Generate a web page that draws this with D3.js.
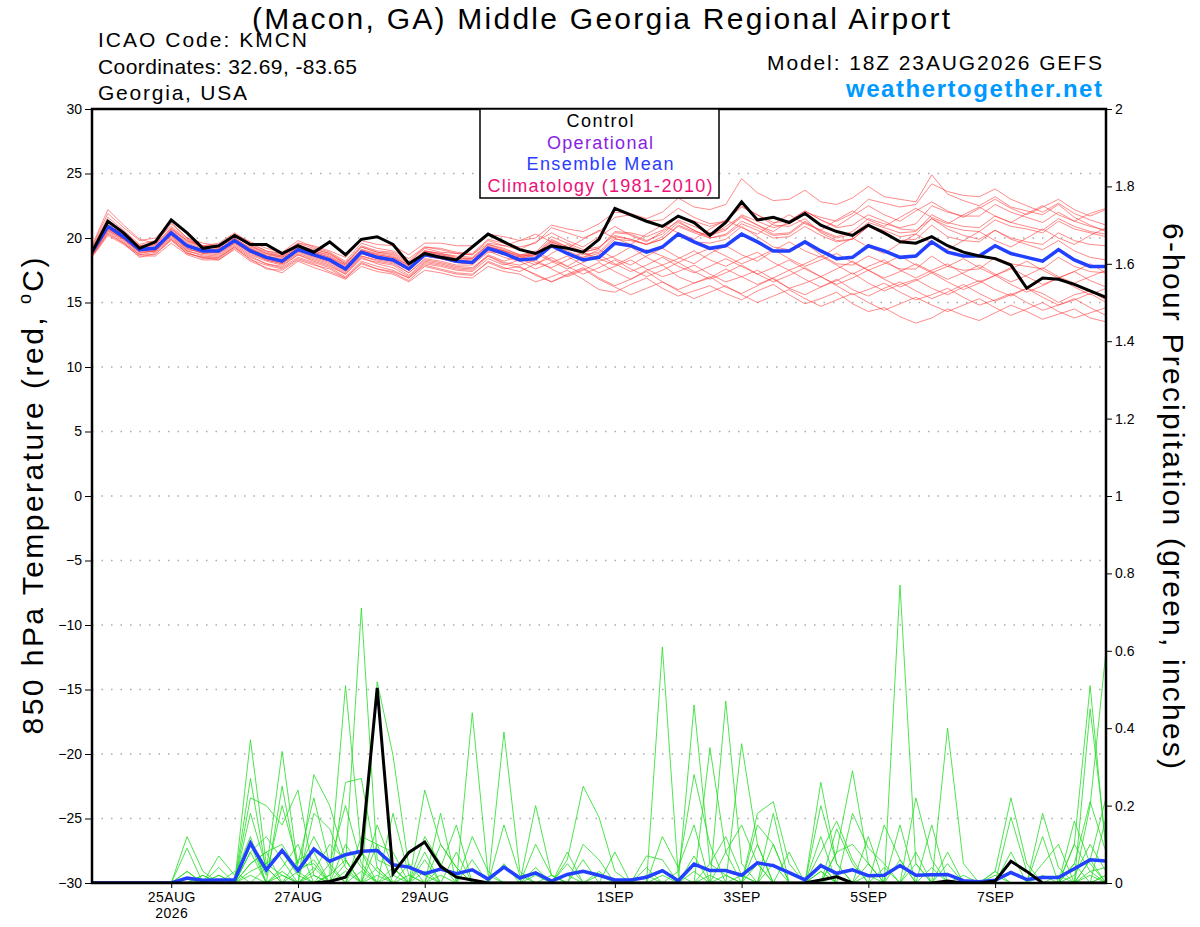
<!DOCTYPE html>
<html>
<head>
<meta charset="utf-8">
<script src="https://cdn.jsdelivr.net/npm/d3@7"></script>
<style>
body { margin: 0; background: #fff; }
text { font-family: "Liberation Sans", Arial, Helvetica, sans-serif; }
</style>
</head>
<body>
<svg id="chart" width="1200" height="927"></svg>
<script>
// run info
const runStart = Date.UTC(2026, 7, 23, 18)
const nSteps = 65

const tickDates = ['2026-08-25', '2026-08-27', '2026-08-29', '2026-09-01', '2026-09-03', '2026-09-05', '2026-09-07']
const tickLabels = ['25AUG', '27AUG', '29AUG', '1SEP', '3SEP', '5SEP', '7SEP']
const tempTicks = [-30, -25, -20, -15, -10, -5, 0, 5, 10, 15, 20, 25, 30]
const precipTicks = [0, 0.2, 0.4, 0.6, 0.8, 1, 1.2, 1.4, 1.6, 1.8, 2]

// 850 hPa temperature (C)
const tempControl = [18.9,21.3,20.4,19.2,19.7,21.4,20.4,19.2,19.4,20.2,19.5,19.5,18.8,
    19.4,18.9,19.7,18.7,19.9,20.1,19.5,18.0,18.8,18.5,18.3,19.3,20.3,
    19.7,19.1,18.8,19.4,19.2,18.9,19.9,22.3,21.8,21.3,20.9,21.7,21.2,
    20.2,21.2,22.8,21.4,21.6,21.2,21.9,21.0,20.5,20.2,21.0,20.4,19.7,
    19.6,20.1,19.4,18.9,18.6,18.4,17.9,16.1,16.9,16.8,16.4,15.9,15.4]
const tempMean = [18.9,20.9,20.1,19.1,19.2,20.4,19.4,19.0,19.0,19.8,19.0,18.5,18.2,
    19.1,18.7,18.3,17.6,18.9,18.5,18.3,17.6,18.7,18.5,18.2,18.1,19.2,
    18.8,18.3,18.4,19.4,18.8,18.3,18.5,19.6,19.4,18.9,19.3,20.3,19.7,
    19.2,19.4,20.3,19.7,19.0,19.0,19.7,19.0,18.4,18.5,19.4,19.0,18.5,
    18.6,19.7,18.9,18.6,18.6,19.4,18.8,18.5,18.2,19.1,18.3,17.8,17.8]
const tempMembers = [
    [19.2,21.6,20.6,19.5,19.8,20.9,19.9,19.4,19.6,20.4,19.6,19.0,18.8, 19.6,19.4,19.0,18.5,19.8,19.5,19.4,18.7,19.6,19.6,19.4,19.4,20.3,
     20.1,19.8,20.0,21.0,20.7,20.5,21.1,22.0,21.9,21.5,22.0,23.1,22.4, 22.2,22.6,24.6,23.5,22.9,23.0,23.7,22.8,22.6,23.1,24.0,23.2,23.0,
     22.8,24.9,23.4,22.9,22.5,23.2,22.4,22.1,21.8,22.6,21.6,21.0,20.5],
    [18.5,20.2,19.5,18.6,18.6,19.6,18.7,18.3,18.3,19.1,18.2,17.7,17.3, 18.2,17.7,17.3,16.8,17.8,17.4,17.2,16.6,17.5,17.3,17.0,16.9,17.8,
     17.4,17.2,16.6,17.0,17.5,16.8,16.0,15.8,16.4,16.9,16.1,15.5,15.9, 16.3,15.7,15.2,15.9,16.4,15.6,14.9,15.3,15.8,14.9,14.3,14.6,13.9,
     13.4,13.8,14.5,14.0,13.6,14.2,14.8,14.3,13.7,14.1,14.5,13.8,13.5],
    [19.0,21.2,20.3,19.3,19.0,20.7,19.8,19.3,19.2,20.1,19.4,18.8,18.6, 19.5,19.0,18.7,18.0,19.3,18.9,18.8,18.1,19.2,18.9,18.8,18.7,19.6,
     19.4,19.8,20.3,19.7,19.2,19.9,20.6,20.0,19.5,20.3,21.0,20.4,19.9, 20.7,21.4,20.8,20.3,21.1,21.8,21.1,20.6,21.4,22.1,21.4,20.9,21.6,
     22.3,21.6,21.1,21.8,22.4,21.7,21.2,21.9,22.5,21.8,21.3,21.9,22.3],
    [18.7,20.6,19.8,18.8,19.0,20.1,19.0,18.6,18.5,19.4,18.6,18.0,17.8, 18.7,18.2,17.8,17.2,18.5,18.0,17.7,17.0,18.1,17.9,17.6,17.5,18.6,
     18.1,17.9,18.3,17.6,17.0,17.5,18.1,17.4,16.8,17.5,17.9,17.0,16.5, 16.9,17.6,17.0,16.4,16.9,17.5,16.8,16.2,16.7,17.3,16.5,15.9,16.4,
     16.8,16.1,15.6,16.2,16.7,16.0,15.5,16.1,15.7,15.0,15.6,15.9,15.2],
    [19.1,21.0,20.3,19.2,19.5,20.6,19.6,19.2,19.3,20.0,19.2,18.7,18.5, 19.3,19.0,18.6,17.9,19.1,18.8,18.6,17.9,19.0,18.8,18.5,18.4,19.5,
     19.1,18.7,18.8,19.9,19.3,18.9,19.2,20.4,20.3,19.8,20.3,21.4,20.9, 20.4,20.7,21.6,21.0,20.3,20.4,21.3,20.5,20.0,20.3,21.2,20.8,20.4,
     20.5,21.8,21.2,20.9,20.8,21.7,21.2,20.9,20.6,21.5,20.9,20.5,20.3],
    [18.8,20.8,19.9,19.0,19.1,20.2,19.1,18.9,18.8,19.6,18.9,18.3,18.0, 18.9,18.5,18.1,17.4,18.6,18.3,18.1,17.3,18.4,18.2,17.9,17.9,18.9,
     18.9,18.4,17.9,18.8,19.5,18.9,18.2,18.6,19.3,18.5,17.9,18.4,19.0, 18.3,17.8,18.4,18.9,18.1,17.5,18.0,18.6,17.9,17.2,17.8,18.3,17.5,
     16.9,17.5,18.0,17.2,16.6,17.1,17.7,17.0,16.4,16.9,17.4,16.7,16.2],
    [19.3,21.9,20.8,19.8,20.0,21.2,20.0,19.6,19.4,20.3,19.7,19.2,18.9, 19.8,19.3,18.9,18.2,19.6,19.2,19.0,18.4,19.3,19.2,18.9,18.8,19.9,
     19.6,19.3,19.6,20.8,20.4,20.0,20.5,21.6,21.8,21.3,21.4,22.3,21.6, 21.1,21.3,22.5,21.8,21.0,20.9,21.5,20.4,19.8,19.9,20.9,20.3,19.8,
     19.9,21.0,20.1,19.8,19.7,20.6,20.0,19.7,19.5,20.4,19.8,19.5,19.4],
    [18.6,20.4,19.6,18.5,18.8,19.8,18.8,18.5,18.3,19.2,18.4,17.6,17.5, 18.3,17.9,17.6,16.9,18.1,17.6,17.4,16.9,17.9,17.6,17.3,17.2,18.1,
     17.6,17.8,17.1,16.6,17.2,17.7,16.9,16.3,16.8,17.4,16.6,16.0,16.5, 17.0,16.2,15.7,16.3,16.9,16.1,15.6,16.2,16.8,16.0,15.5,16.1,16.6,
     15.9,15.3,15.8,16.4,15.7,15.1,15.6,16.1,15.4,14.8,15.2,15.7,15.0],
    [18.9,20.7,20.0,19.1,19.3,20.3,19.2,18.8,18.9,19.8,19.0,18.4,18.1, 19.0,18.6,18.2,17.5,18.8,18.4,18.2,17.5,18.6,18.4,18.1,18.0,19.1,
     18.7,18.4,19.0,18.3,17.8,18.5,19.1,18.4,17.9,18.6,19.2,18.5,18.0, 18.8,19.4,18.7,18.2,19.0,19.7,19.0,18.5,19.3,20.0,19.3,18.8,19.6,
     20.3,19.6,19.1,19.8,20.5,19.8,19.3,20.0,20.7,20.0,19.5,20.2,20.8],
    [19.4,22.2,21.0,19.9,19.6,21.1,20.0,19.3,19.2,20.2,19.5,19.0,18.7, 19.6,19.2,18.8,18.0,19.3,18.9,18.7,18.0,19.0,18.8,18.6,18.5,19.5,
     19.2,18.7,18.9,20.1,19.6,19.1,19.3,20.2,19.9,19.5,20.1,21.2,20.6, 20.0,20.3,21.3,20.8,20.2,20.3,21.2,20.6,20.1,20.5,21.5,21.1,20.8,
     21.1,22.5,22.0,21.7,21.7,22.6,22.0,21.6,21.2,22.0,21.3,20.9,20.6],
    [18.6,20.5,19.7,18.7,18.7,19.9,18.9,18.4,18.4,19.3,18.3,17.9,17.6, 18.4,18.0,17.4,16.9,18.0,17.6,17.3,16.7,17.8,17.5,17.2,17.1,18.2,
     17.7,17.4,18.0,18.5,17.8,17.2,17.7,18.3,17.6,17.0,17.5,18.1,17.4, 16.8,17.3,17.9,17.2,16.6,17.1,17.7,17.0,16.4,16.9,17.5,16.8,16.2,
     16.7,17.3,16.6,16.0,16.5,17.1,16.4,15.8,16.3,16.9,16.2,15.6,16.1],
    [19.0,21.1,20.2,19.3,19.4,20.5,19.5,19.1,19.1,20.0,19.2,18.6,18.4, 19.2,18.9,18.5,17.8,19.0,18.7,18.5,17.8,18.9,18.7,18.4,18.3,19.3,
     19.0,18.6,18.7,19.7,19.2,18.7,18.9,20.1,19.9,19.5,19.9,20.9,20.4, 20.0,20.2,21.1,20.6,20.0,20.1,20.9,20.2,19.7,19.9,20.9,20.6,20.1,
     20.3,21.5,20.9,20.6,20.5,21.4,20.9,20.7,20.4,21.3,20.7,20.4,20.1],
    [18.8,20.9,20.0,19.0,19.1,20.3,19.3,19.0,18.9,19.7,18.9,18.4,18.1, 19.0,18.6,18.2,17.5,18.8,18.4,18.2,17.5,18.6,18.4,18.1,18.0,19.0,
     18.5,18.2,17.6,18.1,18.6,17.9,17.3,17.8,18.3,17.6,17.0,17.4,17.9, 17.2,16.6,17.0,17.5,16.8,16.1,16.5,17.0,16.3,15.6,16.0,16.5,15.8,
     15.2,15.6,16.1,15.4,14.8,15.2,15.7,15.0,14.4,14.8,15.3,14.6,14.0],
    [19.1,21.3,20.4,19.4,19.6,20.7,19.7,19.3,19.3,20.2,19.4,18.9,18.6, 19.4,19.1,18.8,18.1,19.4,19.0,18.9,18.2,19.3,19.1,18.8,18.7,19.8,
     19.4,19.1,19.7,20.4,19.8,19.3,20.1,20.9,20.2,19.7,20.5,21.3,20.6, 20.1,20.9,21.7,21.0,20.5,21.3,22.1,21.4,20.9,21.7,22.5,21.8,21.3,
     22.1,22.8,22.1,21.6,22.3,23.0,22.3,21.8,22.4,23.0,22.2,21.7,22.2],
    [18.7,20.7,19.9,18.9,19.0,20.2,19.2,18.8,18.7,19.6,18.8,18.3,18.0, 18.8,18.4,18.0,17.3,18.6,18.2,18.0,17.3,18.3,18.1,17.8,17.7,18.6,
     18.0,17.7,17.2,16.6,17.1,17.6,16.8,16.2,15.6,16.1,16.6,15.9,15.3, 15.8,16.3,15.6,15.0,15.5,16.0,15.3,14.7,15.2,15.7,15.0,14.4,14.9,
     15.4,14.8,14.3,14.8,15.3,14.6,14.0,14.5,15.0,14.3,13.8,14.2,14.6],
    [19.0,21.0,20.1,19.2,19.3,20.4,19.4,19.1,19.0,19.9,19.1,18.6,18.3, 19.2,18.8,18.4,17.7,19.0,18.6,18.4,17.7,18.8,18.6,18.3,18.2,19.3,
     19.0,18.6,18.7,19.8,19.3,18.9,19.2,20.5,20.4,20.1,20.6,21.7,21.3, 20.9,21.3,22.4,21.8,21.2,21.3,22.1,21.4,20.8,21.0,21.8,21.3,20.7,
     20.6,21.5,20.7,20.2,19.9,20.6,19.9,19.5,19.1,19.8,19.0,18.5,18.3],
    [18.8,20.6,19.9,18.9,19.0,20.0,19.0,18.7,18.6,19.5,18.7,18.2,17.9, 18.7,18.3,17.9,17.2,18.4,18.1,17.9,17.1,18.2,18.0,17.7,17.6,18.7,
     18.2,18.6,18.1,17.7,18.3,18.9,18.4,17.9,18.5,19.1,18.6,18.1,18.7, 19.2,18.6,18.0,18.5,19.1,18.4,17.8,18.3,18.8,18.1,17.5,18.0,18.6,
     17.9,17.3,17.8,18.4,17.7,17.1,17.6,18.2,17.5,16.9,17.4,18.0,17.3],
    [19.0,21.4,20.5,19.4,19.5,20.8,19.8,19.4,19.4,20.2,19.3,18.8,18.5, 19.3,18.9,18.5,17.9,19.1,18.7,18.5,17.9,19.0,18.7,18.4,18.4,19.4,
     19.0,18.5,18.6,19.6,19.0,18.5,18.8,19.9,19.8,19.5,19.9,21.0,20.5, 20.2,20.6,21.8,21.3,20.8,21.1,22.0,21.6,21.3,21.9,23.0,22.7,22.4,
     22.6,24.2,23.6,23.3,23.2,23.8,23.0,22.5,22.0,22.7,21.9,21.4,21.0],
    [18.6,20.3,19.6,18.7,18.9,19.9,18.8,18.5,18.5,19.3,18.5,18.0,17.7, 18.5,18.1,17.7,17.0,18.2,17.8,17.5,16.9,18.0,17.8,17.5,17.4,18.4,
     17.9,18.3,18.8,18.2,17.6,18.1,18.7,18.0,17.4,17.9,18.5,17.8,17.3, 17.8,18.4,17.8,17.2,17.7,18.3,17.6,17.0,17.6,18.2,17.5,16.9,17.4,
     18.0,17.4,16.8,17.3,17.9,17.2,16.6,17.1,17.7,17.0,16.5,17.0,17.5],
    [18.9,20.9,20.2,19.1,19.2,20.5,19.4,19.0,19.0,19.8,19.1,18.5,18.2, 19.1,18.7,18.3,17.6,18.9,18.5,18.3,17.6,18.7,18.5,18.2,18.1,19.2,
     18.8,18.3,18.4,19.4,18.8,18.3,18.5,19.6,19.4,18.9,19.3,20.3,19.7, 19.6,19.9,20.9,20.1,19.3,19.1,19.6,18.7,18.0,17.9,18.6,18.1,17.6,
     17.6,18.6,17.8,17.5,17.6,18.5,18.0,17.8,17.6,18.5,17.8,17.4,17.3]
]

// 6-hour precipitation (inches)
const precipControl = [0,0,0,0,0,0,0,0,0,0,0,0,0,
    0,0,.004,.015,.077,.504,.024,.079,.106,.043,.015,.008,0,
    0,0,0,0,0,0,0,0,0,0,0,0,0,
    0,0,0,0,0,0,0,.008,.016,0,0,0,0,
    0,0,.005,0,0,.005,.056,.03,0,0,0,0,0]
const precipMean = [0,0,0,0,0,0,.013,.007,.008,.008,.103,.034,.084,
    .032,.088,.056,.073,.082,.084,.047,.041,.024,.036,.024,.034,.01,
    .041,.013,.026,.005,.022,.03,.02,.008,.008,.015,.032,.006,.049,
    .032,.032,.02,.052,.045,.027,.008,.045,.025,.034,.019,.02,.045,
    .02,.021,.022,.006,.003,.007,.027,.009,.014,.014,.037,.06,.057]
const precipMembers = [
    [0,0,0,0,0,0,0,0,0,0,.37,.05,.02, 0,0,.02,.51,.08,.03,0,0,0,0,0,.44,.02,
     0,0,0,0,0,0,0,0,0,0,.61,.02,0, 0,0,0,0,0,0,0,.03,0,0,0,0,.77, .05,0,0,0,0,0,0,0,0,0,.02,.1,.03],
    [0,0,0,0,0,0,.01,0,0,0,.27,.03,.34, .04,.05,0,0,0,.52,.33,.04,.02,0,0,0,0,
     0,0,0,0,0,0,0,0,0,0,0,0,.46, .05,.12,.02,0,0,0,0,.05,0,0,0,0,0, 0,0,0,0,0,0,0,0,0,0,.1,.51,.08],
    [0,0,0,0,0,0,.12,.03,0,0,.22,.2,.15, .24,.02,0,.05,.71,.06,.04,0,0,0,0,0,0,
     .39,.03,0,0,0,0,0,0,0,0,0,0,0, 0,.47,.05,0,0,0,0,0,0,0,.05,0,0, 0,0,0,0,0,0,0,0,0,0,0,.2,.6],
    [0,0,0,0,0,0,.09,0,.02,0,.18,.04,0, 0,.28,.2,.06,0,0,0,0,.24,.1,.04,0,0,
     0,0,0,0,.05,0,0,0,0,0,0,0,0, .35,.08,.15,.05,0,0,0,0,0,0,0,0,0, 0,0,.4,.05,0,0,0,0,0,0,0,.45,.1],
    [0,0,0,0,0,0,0,0,.07,.02,.12,0,.25, .03,.06,0,.26,.27,.04,0,0,0,0,0,0,0,
     0,0,.2,.02,0,0,0,0,0,0,0,.03,.28, .1,0,0,0,0,0,0,0,.08,.29,.05,0,0, 0,0,0,0,0,0,0,0,0,0,0,.06,.22],
    [0,0,0,0,0,0,0,0,0,0,.1,.02,.2, .05,.22,.05,0,0,0,.18,.02,0,.04,.15,0,0,
     0,0,0,0,.06,.25,.17,.03,0,0,0,0,0, 0,0,.36,.1,0,0,0,.26,.05,0,0,0,0, 0,0,0,0,0,.03,.22,.05,0,0,0,0,0],
    [0,0,0,0,0,0,.03,0,0,0,.08,.12,.06, 0,.18,.14,.04,0,.15,.04,0,0,.18,0,.12,.03,
     0,0,0,0,0,0,0,0,0,0,0,0,0, 0,0,0,.18,.21,.05,0,0,0,0,0,.15,.06, 0,0,0,0,0,0,0,0,0,0,.05,.21,.08],
    [0,0,0,0,0,0,0,.02,0,0,.08,0,.04, .1,0,.05,.2,.05,0,0,0,.12,.05,0,0,0,
     .15,.02,0,0,0,0,0,0,0,0,.12,.04,.15, 0,0,0,0,0,0,0,.08,.16,.06,0,0,0, .22,.06,0,0,0,0,0,0,.18,.04,0,0,.17],
    [0,0,0,0,0,0,0,0,0,0,.05,.08,.1, .03,.12,.04,0,.12,.1,.08,0,0,0,0,0,0,
     0,0,.04,0,0,.1,.06,0,0,0,0,0,0, 0,0,0,.15,.1,0,0,.2,.05,0,.12,0,0, 0,0,0,0,0,0,.17,.03,0,0,.16,.05,0],
    [0,0,0,0,0,0,.03,0,0,0,.05,.08,0, 0,.03,.1,.06,0,.1,0,0,.08,0,0,0,0,
     0,0,.1,.02,0,0,0,0,0,0,0,0,0, 0,0,0,0,.18,0,0,0,.14,.05,0,0,0, 0,.15,0,0,0,0,0,0,.05,.1,0,.06,0],
    [0,0,0,0,0,0,0,0,.04,0,.03,.05,.08, .02,0,0,.1,.04,0,0,.05,0,0,0,0,0,
     0,0,0,0,.08,0,0,0,0,.07,.06,0,0, 0,.08,0,0,0,0,0,0,0,.18,.09,.05,0, 0,0,0,0,0,0,0,0,.12,0,.1,.03,.04],
    [0,0,0,0,0,0,0,0,0,.03,0,0,0, .06,.08,0,0,.08,0,.04,0,.06,0,.08,0,0,
     0,0,0,0,0,.06,0,.08,0,0,0,0,.07, 0,0,0,.05,0,0,0,.12,0,0,0,0,.15, 0,0,0,0,0,.03,0,0,0,0,.05,0,0],
    [0,0,0,0,0,0,0,.02,0,0,.1,0,.03, 0,0,.02,.06,0,.02,0,0,0,.1,.04,0,0,
     0,0,0,0,0,0,.03,0,0,.04,0,0,0, .05,.02,0,0,0,.08,0,0,.08,.1,.05,0,0, .08,0,.08,0,0,0,.08,0,0,0,0,0,.02],
    [0,0,0,0,0,0,0,0,0,0,.02,0,0, 0,.02,0,0,.03,0,.02,0,0,0,0,.06,0,
     .05,0,0,0,.02,0,0,0,0,0,.02,0,.03, 0,0,.02,0,.1,0,0,.05,0,0,0,0,.06, 0,0,0,.02,0,0,0,0,0,0,0,.02,0],
    [0,0,0,0,0,0,0,0,.02,0,0,.04,0, .03,0,0,.03,0,0,0,.02,0,.02,0,0,0,
     0,0,.02,0,0,0,0,0,0,0,0,0,0, .02,0,0,.1,0,0,0,0,.02,0,.02,0,0, .05,0,.05,0,0,0,0,0,.02,0,0,0,.02],
    [0,0,0,0,0,0,0,0,0,0,0,0,.02, 0,.04,0,0,0,.04,0,0,.03,0,0,0,0,
     0,0,0,.02,0,0,.02,0,0,.02,0,0,0, 0,.02,0,0,.05,0,0,.03,0,0,0,.04,0, 0,.04,0,0,0,.02,0,0,0,.02,0,.03,0]
]

const margin = { top: 109, right: 94, bottom: 44, left: 92 }
const W = 1200, H = 927
const width = W - margin.left - margin.right
const height = H - margin.top - margin.bottom

const times = d3.range(nSteps).map(i => new Date(runStart + i * 6 * 3600 * 1000))

const svg = d3.select('#chart')
svg.append('rect').attr('width', W).attr('height', H).style('fill', '#fff')

const x = d3.scaleUtc()
    .domain([times[0], times[nSteps - 1]])
    .range([margin.left, margin.left + width])
const yT = d3.scaleLinear().domain([-30, 30]).range([margin.top + height, margin.top])
const yP = d3.scaleLinear().domain([0, 2]).range([margin.top + height, margin.top])

// dotted grid at temperature ticks
svg.append('g')
    .selectAll('line')
    .data(tempTicks.filter(d => d > -30 && d < 30))
    .enter().append('line')
    .attr('x1', margin.left).attr('x2', margin.left + width)
    .attr('y1', d => yT(d)).attr('y2', d => yT(d))
    .style('stroke', '#aaa')
    .style('stroke-width', 1.5)
    .style('stroke-dasharray', '1.5,8')

svg.append('clipPath').attr('id', 'plotClip')
    .append('rect')
    .attr('x', margin.left).attr('y', margin.top)
    .attr('width', width).attr('height', height)

const plot = svg.append('g').attr('clip-path', 'url(#plotClip)')

const tempLine = d3.line().x((d, i) => x(times[i])).y(d => yT(d))
const precipLine = d3.line().x((d, i) => x(times[i])).y(d => yP(d))

plot.selectAll('path.member-t')
    .data(tempMembers)
    .enter().append('path')
    .attr('class', 'member-t')
    .attr('d', tempLine)
    .style('fill', 'none')
    .style('stroke', '#ff3b3b')
    .style('stroke-opacity', 0.75)
    .style('stroke-width', 0.8)

plot.selectAll('path.member-p')
    .data(precipMembers)
    .enter().append('path')
    .attr('class', 'member-p')
    .attr('d', precipLine)
    .style('fill', 'none')
    .style('stroke', '#22dd22')
    .style('stroke-width', 0.8)

plot.append('path').attr('d', precipLine(precipMean))
    .style('fill', 'none').style('stroke', '#2240ff').style('stroke-width', 3.5)
plot.append('path').attr('d', precipLine(precipControl))
    .style('fill', 'none').style('stroke', '#000').style('stroke-width', 3)
plot.append('path').attr('d', tempLine(tempMean))
    .style('fill', 'none').style('stroke', '#2240ff').style('stroke-width', 3.5)
plot.append('path').attr('d', tempLine(tempControl))
    .style('fill', 'none').style('stroke', '#000').style('stroke-width', 3)

// axes
const yAxisLeft = d3.axisLeft(yT).tickValues(tempTicks).tickSize(7).tickPadding(3)
const yAxisRight = d3.axisRight(yP).tickValues(precipTicks).tickSize(6).tickPadding(3)
    .tickFormat(d => +d.toFixed(1))
const xAxis = d3.axisBottom(x)
    .tickValues(tickDates.map(d => new Date(d + 'T00:00:00Z')))
    .tickFormat((d, i) => tickLabels[i])
    .tickSize(5).tickPadding(4)

const styleAxis = g => {
    g.select('.domain').remove()
    g.selectAll('text').style('font-size', '14px').style('fill', '#000')
        .style('font-family', '"Liberation Sans", Arial, sans-serif')
    g.selectAll('line').style('stroke', '#000')
}

svg.append('g').attr('transform', `translate(${margin.left},0)`).call(yAxisLeft).call(styleAxis)
svg.append('g').attr('transform', `translate(${margin.left + width},0)`).call(yAxisRight).call(styleAxis)
const gx = svg.append('g').attr('transform', `translate(0,${margin.top + height})`).call(xAxis).call(styleAxis)
gx.selectAll('.tick text').style('letter-spacing', '0.4px')
gx.selectAll('.tick').filter((d, i) => i === 0)
    .append('text')
    .attr('y', 25).attr('dy', '0.71em')
    .style('text-anchor', 'middle')
    .style('font-size', '14px').style('fill', '#000').style('letter-spacing', '0.4px')
    .text('2026')

// frame
svg.append('rect')
    .attr('x', margin.left).attr('y', margin.top)
    .attr('width', width).attr('height', height)
    .style('fill', 'none').style('stroke', '#000').style('stroke-width', 2.5)

// legend
const legendItems = ['Control', 'Operational', 'Ensemble Mean', 'Climatology (1981-2010)']
const legendColors = ['#000', '#8a1ee6', '#2a3cff', '#ee1177']
const legendWidths = [67, 106, 147, 225]
svg.append('rect')
    .attr('x', 480).attr('y', margin.top).attr('width', 239).attr('height', 89)
    .style('fill', '#fff').style('stroke', '#000').style('stroke-width', 1.5)
svg.selectAll('text.legend')
    .data(legendItems)
    .enter().append('text')
    .attr('class', 'legend')
    .attr('x', 600).attr('y', (d, i) => 127 + i * 21.7)
    .attr('textLength', (d, i) => legendWidths[i]).attr('lengthAdjust', 'spacing')
    .style('text-anchor', 'middle').style('font-size', '18px')
    .style('fill', (d, i) => legendColors[i])
    .text(d => d)

// titles
svg.append('text').attr('x', 601).attr('y', 29)
    .attr('textLength', 698).attr('lengthAdjust', 'spacing')
    .style('text-anchor', 'middle').style('font-size', '30px')
    .text('(Macon, GA) Middle Georgia Regional Airport')

const infoLeft = ['ICAO Code: KMCN', 'Coordinates: 32.69, -83.65', 'Georgia, USA']
const infoWidths = [209, 259, 149]
svg.selectAll('text.info')
    .data(infoLeft)
    .enter().append('text')
    .attr('class', 'info')
    .attr('x', 98).attr('y', (d, i) => 47 + i * 26.5)
    .attr('textLength', (d, i) => infoWidths[i]).attr('lengthAdjust', 'spacing')
    .style('font-size', '21px')
    .text(d => d)

svg.append('text').attr('x', 1102).attr('y', 70)
    .attr('textLength', 335).attr('lengthAdjust', 'spacing')
    .style('text-anchor', 'end').style('font-size', '21px')
    .text('Model: 18Z 23AUG2026 GEFS')
svg.append('text').attr('x', 1102).attr('y', 97)
    .attr('textLength', 256).attr('lengthAdjust', 'spacing')
    .style('text-anchor', 'end').style('font-size', '24px').style('font-weight', 'bold')
    .style('fill', '#0099ff')
    .text('weathertogether.net')

const leftTitle = svg.append('text')
    .attr('transform', `translate(43,${margin.top + height / 2}) rotate(-90)`)
    .attr('textLength', 477).attr('lengthAdjust', 'spacing')
    .style('text-anchor', 'middle').style('font-size', '30px')
leftTitle.append('tspan').text('850 hPa Temperature (red, ')
leftTitle.append('tspan').attr('dy', -12).style('font-size', '18px').text('o')
leftTitle.append('tspan').attr('dy', 12).text('C)')

svg.append('text')
    .attr('transform', `translate(1163,${margin.top + height / 2}) rotate(90)`)
    .attr('textLength', 546).attr('lengthAdjust', 'spacing')
    .style('text-anchor', 'middle').style('font-size', '30px')
    .text('6-hour Precipitation (green, inches)')
</script>
</body>
</html>
